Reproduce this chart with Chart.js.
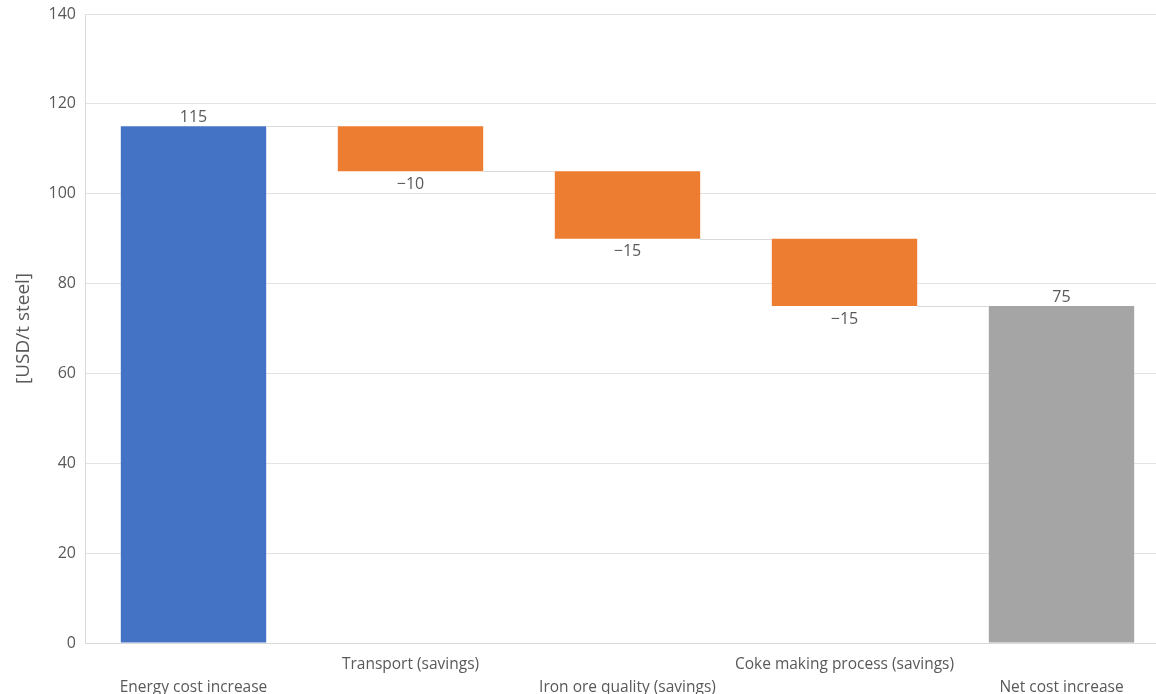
<!DOCTYPE html>
<html>
<head>
<meta charset="utf-8">
<script src="https://cdn.jsdelivr.net/npm/chart.js@4"></script>
<style>
  html, body { margin: 0; padding: 0; background: #fff; overflow: hidden; }
  #wrap { width: 1156px; height: 694px; overflow: hidden; }
</style>
</head>
<body>
<div id="wrap"><canvas id="chart" width="1170" height="694"></canvas></div>
<script>
const categories = ["Energy cost increase", "Transport (savings)", "Iron ore quality (savings)", "Coke making process (savings)", "Net cost increase"];
const changes = [115, -10, -15, -15, 75];
const isTotal = [true, false, false, false, true];
const barColors = ["#4472C4", "#ED7D31", "#ED7D31", "#ED7D31", "#A5A5A5"];
const yTicks = [0, 20, 40, 60, 80, 100, 120, 140];

// floating ranges for the waterfall
let running = 0;
const ranges = changes.map((v, i) => {
  if (isTotal[i]) { running = v; return [0, v]; }
  const start = running;
  running = running + v;
  return [start, running];
});

const fontFam = "'Open Sans', 'DejaVu Sans', sans-serif";
const textColor = "#595959";

const waterfallExtras = {
  id: "waterfallExtras",
  afterDatasetsDraw(chart) {
    const ctx = chart.ctx;
    const meta = chart.getDatasetMeta(0);
    const y = chart.scales.y;
    ctx.save();
    // connectors
    ctx.strokeStyle = "#d9d9d9";
    ctx.lineWidth = 1;
    for (let i = 0; i < meta.data.length - 1; i++) {
      const a = meta.data[i], b = meta.data[i + 1];
      const level = Math.round(y.getPixelForValue(ranges[i][1])) + 0.5;
      ctx.beginPath();
      ctx.moveTo(a.x + a.width / 2, level);
      ctx.lineTo(b.x - b.width / 2, level);
      ctx.stroke();
    }
    // value labels
    ctx.fillStyle = textColor;
    ctx.font = "16px " + fontFam;
    ctx.textAlign = "center";
    meta.data.forEach((bar, i) => {
      const v = changes[i];
      const txt = v < 0 ? "\u2212" + Math.abs(v) : String(v);
      if (v >= 0) {
        ctx.textBaseline = "bottom";
        ctx.fillText(txt, bar.x, y.getPixelForValue(ranges[i][1]) - 1);
      } else {
        ctx.textBaseline = "top";
        ctx.fillText(txt, bar.x, y.getPixelForValue(ranges[i][1]) + 5);
      }
    });
    ctx.restore();
  }
};

new Chart(document.getElementById("chart"), {
  type: "bar",
  data: {
    labels: categories,
    datasets: [{
      data: ranges,
      backgroundColor: barColors,
      borderWidth: 0,
      categoryPercentage: 1,
      barPercentage: 0.67
    }]
  },
  options: {
    responsive: false,
    animation: false,
    layout: { padding: { top: 14, right: 0, left: 0, bottom: 0 } },
    plugins: {
      legend: { display: false },
      tooltip: { enabled: false }
    },
    scales: {
      x: {
        grid: { display: false, drawTicks: false },
        border: { display: true, color: "#d9d9d9" },
        ticks: {
          color: textColor,
          font: { family: fontFam, size: 15.5, lineHeight: 1.48 },
          maxRotation: 0,
          autoSkip: false,
          padding: 10,
          callback: function (val, idx) {
            const lbl = categories[idx];
            return idx % 2 === 0 ? ["", lbl] : [lbl];
          }
        },
        afterFit(scale) { scale.height = 51; }
      },
      y: {
        min: 0,
        max: 140,
        afterBuildTicks(scale) { scale.ticks = yTicks.map(v => ({ value: v })); },
        grid: { color: "#e3e3e3", drawTicks: false },
        border: { display: true, color: "#d9d9d9" },
        ticks: {
          color: textColor,
          font: { family: fontFam, size: 16 },
          padding: 9
        },
        title: {
          display: true,
          text: "[USD/t steel]",
          color: textColor,
          font: { family: fontFam, size: 19 },
          padding: { top: 12, bottom: 0 }
        },
        afterFit(scale) {
          scale.width = 85;
          scale.paddingTop = 0;
          scale.paddingBottom = 0;
        }
      }
    }
  },
  plugins: [waterfallExtras]
});
</script>
</body>
</html>
